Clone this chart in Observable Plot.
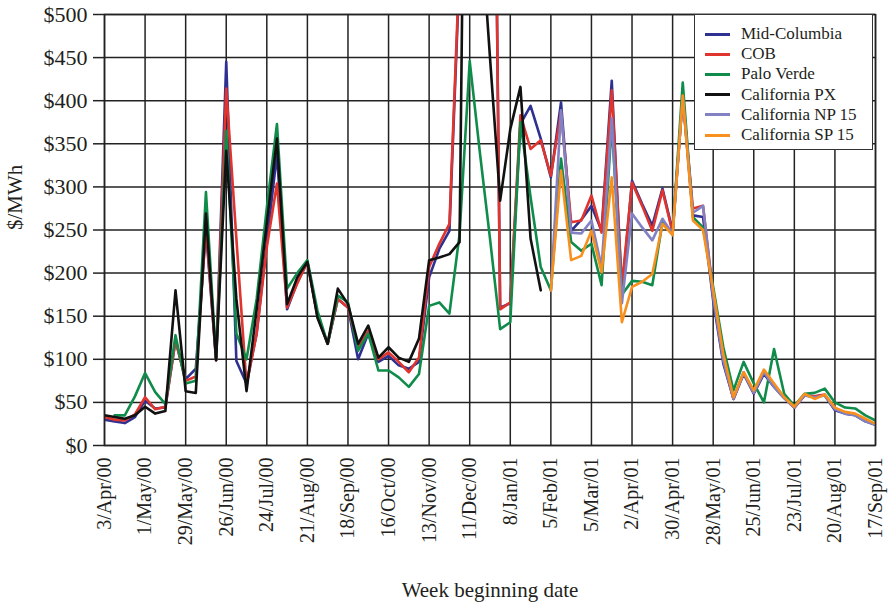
<!DOCTYPE html>
<html>
<head>
<meta charset="utf-8">
<script src="https://cdn.jsdelivr.net/npm/d3@7"></script>
<script src="https://cdn.jsdelivr.net/npm/@observablehq/plot@0.6"></script>
<style>
  html, body { margin: 0; padding: 0; background: #fff; }
  #wrap { position: relative; width: 889px; height: 604px; font-family: "Liberation Serif", "Times New Roman", serif; color: #231f20; }
  .legend { position: absolute; left: 694px; top: 14px; width: 177px; height: 134px; background: #fff; border: 1.5px solid #333; box-sizing: content-box; }
  .legend .row { position: absolute; left: 10px; height: 20px; display: flex; align-items: center; font-size: 17px; white-space: nowrap; }
  .legend .sw { width: 25px; height: 3px; margin-right: 11px; }
</style>
</head>
<body>
<div id="wrap"></div>
<script>
// ---- Data ----
const tickLabels = ["3/Apr/00","1/May/00","29/May/00","26/Jun/00","24/Jul/00","21/Aug/00","18/Sep/00","16/Oct/00","13/Nov/00","11/Dec/00","8/Jan/01","5/Feb/01","5/Mar/01","2/Apr/01","30/Apr/01","28/May/01","25/Jun/01","23/Jul/01","20/Aug/01","17/Sep/01"];
const firstWeek = new Date(Date.UTC(2000, 3, 3));
const weeks = d3.range(77).map(i => d3.utcDay.offset(firstWeek, 7 * i));

const seriesNames = ["Mid-Columbia", "COB", "Palo Verde", "California PX", "California NP 15", "California SP 15"];
const seriesColors = ["#2e3192", "#e0342e", "#0f8c4a", "#111111", "#8181c4", "#f7901e"];

const midColumbia = [30,28,26,33,52,43,44,122,77,89,250,99,445,98,72,130,236,338,158,189,213,150,118,170,160,100,130,97,104,93,89,97,195,228,249,550,900,1100,1250,160,165,373,394,356,311,398,249,262,278,249,423,175,307,280,255,298,249,405,267,265,168,95,54,83,60,83,68,55,44,58,57,58,41,37,35,28,24];
const cob = [33,30,29,36,56,42,45,122,75,80,255,99,414,240,70,130,230,304,160,188,213,150,118,170,160,114,133,100,108,97,85,102,207,234,257,560,900,1100,1260,158,166,383,344,354,313,387,259,261,290,247,412,185,305,278,249,296,247,405,275,278,176,100,54,85,61,87,70,56,44,58,57,59,43,38,36,29,25];
const paloVerde = [null,35,35,57,84,62,48,128,72,75,294,100,365,130,100,170,276,373,182,200,215,156,118,174,166,110,130,87,87,79,68,83,162,166,153,245,446,340,240,135,143,375,288,207,180,333,236,226,234,186,373,175,191,190,186,259,246,421,265,253,184,114,64,97,72,50,112,60,46,60,61,66,50,44,43,35,29];
const californiaPX = [35,33,31,35,45,37,40,180,63,61,269,99,342,170,63,158,258,356,164,195,213,148,118,182,164,118,139,102,114,102,97,124,215,218,222,236,1300,620,450,284,367,416,240,180,null,null,null,null,null,null,null,null,null,null,null,null,null,null,null,null,null,null,null,null,null,null,null,null,null,null,null,null,null,null,null,null,null];
const californiaNP15 = [null,null,null,null,null,null,null,null,null,null,null,null,null,null,null,null,null,null,null,null,null,null,null,null,null,null,null,null,null,null,null,null,null,null,null,null,null,null,null,null,null,null,null,null,180,389,247,246,261,207,380,165,269,253,238,263,245,405,270,278,172,98,54,84,61,85,68,55,44,58,56,58,42,37,35,28,24];
const californiaSP15 = [null,null,null,null,null,null,null,null,null,null,null,null,null,null,null,null,null,null,null,null,null,null,null,null,null,null,null,null,null,null,null,null,null,null,null,null,null,null,null,null,null,null,null,null,180,319,215,220,249,201,311,143,184,190,199,257,244,406,261,250,180,106,56,85,64,88,72,56,45,60,54,59,44,39,37,31,25];

const yTicks = [0,50,100,150,200,250,300,350,400,450,500];

// ---- Build ----
const allSeries = [midColumbia, cob, paloVerde, californiaPX, californiaNP15, californiaSP15];
const tickDates = weeks.filter((d, i) => i % 4 === 0);
const labelByTime = new Map(tickDates.map((d, i) => [+d, tickLabels[i]]));
const FONT = "Liberation Serif, Times New Roman, serif";

const lineMarks = allSeries.map((vals, s) => {
  const rows = weeks.map((d, i) => ({date: d, value: vals[i]}));
  return Plot.line(rows, {
    x: "date", y: "value",
    stroke: seriesColors[s], strokeWidth: 2.6,
    clip: true
  });
});

const chart = Plot.plot({
  width: 889,
  height: 604,
  marginLeft: 104,
  marginRight: 14,
  marginTop: 14,
  marginBottom: 159,
  style: {fontFamily: FONT, fontSize: "21px", color: "#231f20", background: "#fff"},
  x: {type: "utc", domain: [weeks[0], weeks[76]]},
  y: {domain: [0, 500]},
  marks: [
    Plot.gridY(yTicks, {stroke: "#222", strokeOpacity: 1, strokeWidth: 1.5}),
    Plot.gridX(tickDates, {stroke: "#222", strokeOpacity: 1, strokeWidth: 1.5}),
    Plot.axisY(yTicks, {tickFormat: d => "$" + d, tickSize: 11, tickPadding: 6, label: null, fontSize: 22, stroke: "#222", strokeWidth: 1.5}),
    Plot.axisX(tickDates, {tickFormat: d => labelByTime.get(+d), tickRotate: -90, tickSize: 0, tickPadding: 12, label: null, fontSize: 20}),
    ...lineMarks,
    Plot.frame({stroke: "#222", strokeWidth: 1.5}),
    Plot.text(["$/MWh"], {text: d => d, frameAnchor: "left", dx: -89, rotate: -90, fontSize: 21}),
    Plot.text(["Week beginning date"], {text: d => d, frameAnchor: "bottom", dy: 151, fontSize: 21})
  ]
});

const wrap = document.getElementById("wrap");
wrap.appendChild(chart);

const legend = document.createElement("div");
legend.className = "legend";
seriesNames.forEach((name, s) => {
  const row = document.createElement("div");
  row.className = "row";
  row.style.top = (9 + s * 20.2) + "px";
  const sw = document.createElement("span");
  sw.className = "sw";
  sw.style.background = seriesColors[s];
  const tx = document.createElement("span");
  tx.textContent = name;
  row.appendChild(sw);
  row.appendChild(tx);
  legend.appendChild(row);
});
wrap.appendChild(legend);
</script>
</body>
</html>
